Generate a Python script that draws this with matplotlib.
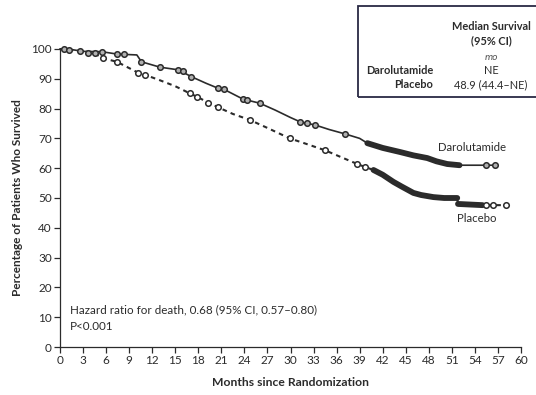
import matplotlib
matplotlib.use("Agg")
import matplotlib.pyplot as plt
from matplotlib.patches import Rectangle

plt.rcParams['font.family'] = ['Lato', 'DejaVu Sans']

# Darolutamide (solid) - courbe
daro_months = [0, 1, 3, 5.4, 7.4, 10, 10.6, 13, 15.4, 17.1, 19, 20.6, 21.3, 23.8, 26,
               28, 30, 31.3, 33.2, 35, 37.1, 39, 40, 42, 44.3, 46, 47.8, 49, 50.4, 52, 56.6]
daro_pct = [100, 100, 99.2, 99.1, 98.3, 98, 95.7, 93.9, 93, 90.7, 88.5, 86.8, 86.5, 83.2, 81.8,
            79.5, 77, 75.5, 74.5, 73, 71.5, 70, 68.4, 66.8, 65.4, 64.3, 63.4, 62.3, 61.4, 61, 61]
daro_cens_m = [0.5, 1.2, 2.6, 3.7, 4.5, 5.4, 7.4, 8.3, 10.6, 13, 15.4, 16, 17.1, 20.6, 21.3,
               23.8, 24.3, 26, 31.3, 32.2, 33.2, 37.1, 55.5, 56.6]
daro_cens_p = [100, 99.8, 99.3, 98.8, 98.6, 99.1, 98.3, 98.2, 95.7, 93.9, 93, 92.6, 90.7, 86.8,
               86.5, 83.2, 83, 81.8, 75.5, 75.2, 74.5, 71.5, 61, 61]
daro_dense = (40, 54.3)

# Placebo (dashed)
plac_months = [0, 3, 4.5, 5.6, 7.4, 10.2, 11.1, 13, 15, 16.9, 17.8, 19.3, 20.6, 22.5, 24.7,
               27, 29.9, 32, 34.5, 36.5, 38.7, 39.7, 40.8, 42, 43.4, 44.5, 46, 47, 48.6,
               50, 51.7, 51.8, 55, 58]
plac_pct = [100, 99.3, 98.5, 96.9, 95.7, 92, 91.3, 89.5, 87.5, 85.1, 84, 82, 80.4, 78.2, 76.2,
            73.5, 70, 68.2, 66, 63.8, 61.4, 60.4, 59.4, 57.8, 55.4, 53.8, 51.7, 51, 50.3,
            50, 50, 48, 47.6, 47.6]
plac_cens_m = [5.6, 7.4, 10.2, 11.1, 16.9, 17.8, 19.3, 20.6, 24.7, 29.9, 34.5, 38.7, 39.7,
               55.5, 56.3, 58]
plac_cens_p = [96.9, 95.7, 92, 91.3, 85.1, 84, 82, 80.4, 76.2, 70, 66, 61.4, 60.4,
               47.6, 47.6, 47.6]
plac_dense = [(40.3, 51.7), (51.8, 55)]

x_ticks = list(range(0, 61, 3))
y_ticks = list(range(0, 101, 10))

col = '#2b2b2b'
fig = plt.figure(figsize=(5.36, 3.95), dpi=100)
ax = fig.add_axes([0.112, 0.1215, 0.86, 0.7545])

ax.plot(daro_months, daro_pct, color=col, lw=1.2, clip_on=False)
ax.plot(plac_months, plac_pct, color=col, lw=1.5, ls=(0, (2.2, 2.0)), clip_on=False)

# zones de censures denses -> trait epais
seg = [(m, p) for m, p in zip(daro_months, daro_pct) if daro_dense[0] <= m <= daro_dense[1]]
ax.plot([s[0] for s in seg], [s[1] for s in seg], color=col, lw=4.2, solid_capstyle='round')
for a, b in plac_dense:
    seg = [(m, p) for m, p in zip(plac_months, plac_pct) if a <= m <= b]
    ax.plot([s[0] for s in seg], [s[1] for s in seg], color=col, lw=4.2, solid_capstyle='round')

ax.plot(daro_cens_m, daro_cens_p, 'o', ms=4, mfc='#b0b0b0', mec=col, mew=1.1, clip_on=False)
ax.plot(plac_cens_m, plac_cens_p, 'o', ms=4, mfc='white', mec=col, mew=1.1, clip_on=False)

ax.set_xlim(0, 60)
ax.set_ylim(0, 100)
ax.set_xticks(x_ticks)
ax.set_yticks(y_ticks)
ax.tick_params(labelsize=8.5, length=4, width=0.9, colors=col, pad=2)
for s in ['top', 'right']:
    ax.spines[s].set_visible(False)
for s in ['left', 'bottom']:
    ax.spines[s].set_linewidth(0.9)
    ax.spines[s].set_color(col)

ax.set_xlabel('Months since Randomization', fontsize=8.7, fontweight='bold', color=col, labelpad=8)
ax.set_ylabel('Percentage of Patients Who Survived', fontsize=8.5, fontweight='bold', color=col, labelpad=6)

ax.text(53.6, 67, 'Darolutamide', fontsize=8.2, color=col, ha='center', va='center')
ax.text(54.3, 43, 'Placebo', fontsize=8.2, color=col, ha='center', va='center')
ax.text(1.3, 12.4, 'Hazard ratio for death, 0.68 (95% CI, 0.57\u20130.80)', fontsize=8.4, color=col, va='center')
ax.text(1.3, 7, 'P<0.001', fontsize=8.4, color=col, va='center')

# encadre median survival
fig.patches.append(Rectangle((358 / 536, 1 - 97 / 395), 1, 91 / 395, transform=fig.transFigure,
                             fill=False, ec='#2a2a44', lw=1.3))
fs = 7.9
cx = 491 / 536
fig.text(cx, 1 - 27 / 395, 'Median Survival', fontsize=fs, fontweight='bold', color=col, ha='center', va='center')
fig.text(cx, 1 - 41 / 395, '(95% CI)', fontsize=fs, fontweight='bold', color=col, ha='center', va='center')
fig.text(cx, 1 - 57 / 395, 'mo', fontsize=fs - 0.4, style='italic', color='#555555', ha='center', va='center')
fig.text(433 / 536, 1 - 71 / 395, 'Darolutamide', fontsize=fs, fontweight='bold', color=col, ha='right', va='center')
fig.text(cx, 1 - 71 / 395, 'NE', fontsize=fs, color=col, ha='center', va='center')
fig.text(433 / 536, 1 - 85 / 395, 'Placebo', fontsize=fs, fontweight='bold', color=col, ha='right', va='center')
fig.text(cx, 1 - 85 / 395, '48.9 (44.4\u2013NE)', fontsize=fs, color=col, ha='center', va='center')

fig.savefig('out.png', dpi=100)
